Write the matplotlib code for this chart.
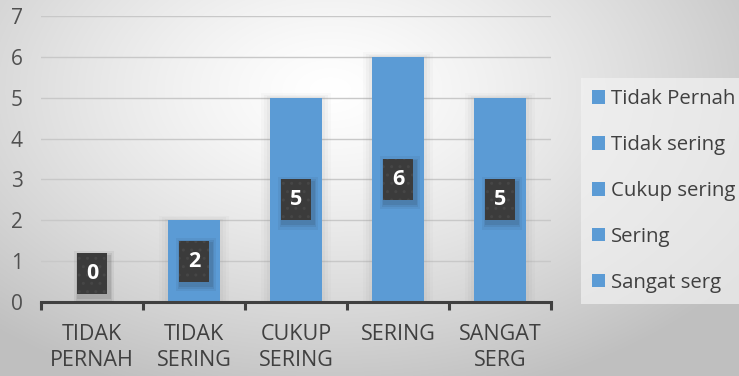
import numpy as np
import matplotlib
matplotlib.use("Agg")
import matplotlib.pyplot as plt
from matplotlib.patches import Rectangle, Patch

categories = ["TIDAK\nPERNAH", "TIDAK\nSERING", "CUKUP\nSERING", "SERING", "SANGAT\nSERG"]
values = [0, 2, 5, 6, 5]
legend_labels = ["Tidak Pernah", "Tidak sering", "Cukup sering", "Sering", "Sangat serg"]
yticks = [0, 1, 2, 3, 4, 5, 6, 7]

BAR = "#5b9bd5"
TXT = "#404040"
FONT = ["Open Sans", "DejaVu Sans"]

W, H = 739, 376
fig = plt.figure(figsize=(W / 100, H / 100), dpi=100)

# soft radial grey background
bg = fig.add_axes([0, 0, 1, 1], zorder=-10)
yy, xx = np.mgrid[0:H, 0:W]
d = np.sqrt(((xx - 330) / 520.0) ** 2 + ((yy - 90) / 330.0) ** 2)
lum = np.clip(1.0 - 0.26 * d ** 1.3, 0.75, 1.0)
bg.imshow(np.dstack([lum, lum, lum]), aspect="auto", extent=[0, 1, 0, 1], origin="upper")
bg.axis("off")

ax = fig.add_axes([41 / W, (H - 302) / H, 510 / W, 286 / H])
ax.patch.set_alpha(0)
x = np.arange(len(categories))
ax.set_xlim(-0.5, len(categories) - 0.5)
ax.set_ylim(0, 7)

# light halo behind bars
for xi, v in zip(x, values):
    if v > 0:
        for k, a in [(0.09, 0.04), (0.06, 0.05), (0.03, 0.06)]:
            ax.add_patch(Rectangle((xi - 0.255 - k, 0), 0.51 + 2 * k, v + k * 1.2,
                                   facecolor="#808080", alpha=a, lw=0, zorder=1))
ax.bar(x, values, width=0.51, color=BAR, zorder=2)

ax.set_yticks(yticks)
ax.yaxis.grid(True, color="#c8c8c8", lw=1.0, zorder=0)
ax.set_axisbelow(True)
for s in ["left", "right", "top"]:
    ax.spines[s].set_visible(False)
ax.spines["bottom"].set_color("#404040")
ax.spines["bottom"].set_linewidth(2.2)
ax.spines["bottom"].set_zorder(5)

ax.set_xticks(x)
ax.set_xticklabels(categories, fontsize=15.5, color=TXT, family=FONT, linespacing=1.3)
ax.tick_params(axis="x", which="major", length=0, pad=16)
ax.set_xticks(np.arange(-0.5, len(categories)), minor=True)
ax.tick_params(axis="x", which="minor", length=6, width=2.2, color="#404040", direction="out")
ax.tick_params(axis="y", length=0, pad=13, labelsize=15, labelcolor="#505050")
for t in ax.get_yticklabels():
    t.set_family(FONT)

# value boxes
bw, bh = 0.295, 1.0
for xi, v in zip(x, values):
    cy = v / 2 if v > 0 else 0.69
    for k, a in [(0.05, 0.06), (0.03, 0.08), (0.015, 0.10)]:
        ax.add_patch(Rectangle((xi - bw / 2 + 0.02 - k, cy - bh / 2 - 0.08 - k * 3), bw + 2 * k, bh + 2 * k * 3,
                               facecolor="#202020", alpha=a, lw=0, zorder=6))
    ax.add_patch(Rectangle((xi - bw / 2, cy - bh / 2), bw, bh, facecolor="#3b3b3b",
                           edgecolor="#464646", hatch="..", lw=0, zorder=7))
    ax.text(xi, cy, str(v), ha="center", va="center", color="white", fontsize=15.5,
            fontweight="bold", family=FONT, zorder=8)

handles = [Patch(facecolor=BAR, edgecolor="none") for _ in legend_labels]
leg = ax.legend(handles, legend_labels, loc="upper left", bbox_to_anchor=(581 / W, (H - 78) / H),
                bbox_transform=fig.transFigure, frameon=True, fancybox=False,
                prop={"family": FONT, "size": 14.7}, labelcolor=TXT,
                handlelength=0.62, handleheight=0.62, handletextpad=0.3,
                labelspacing=1.27, borderpad=0.55, borderaxespad=0)
fr = leg.get_frame()
fr.set_facecolor("#f2f2f2")
fr.set_alpha(0.7)
fr.set_edgecolor("none")

fig.savefig("out.png", dpi=100)
